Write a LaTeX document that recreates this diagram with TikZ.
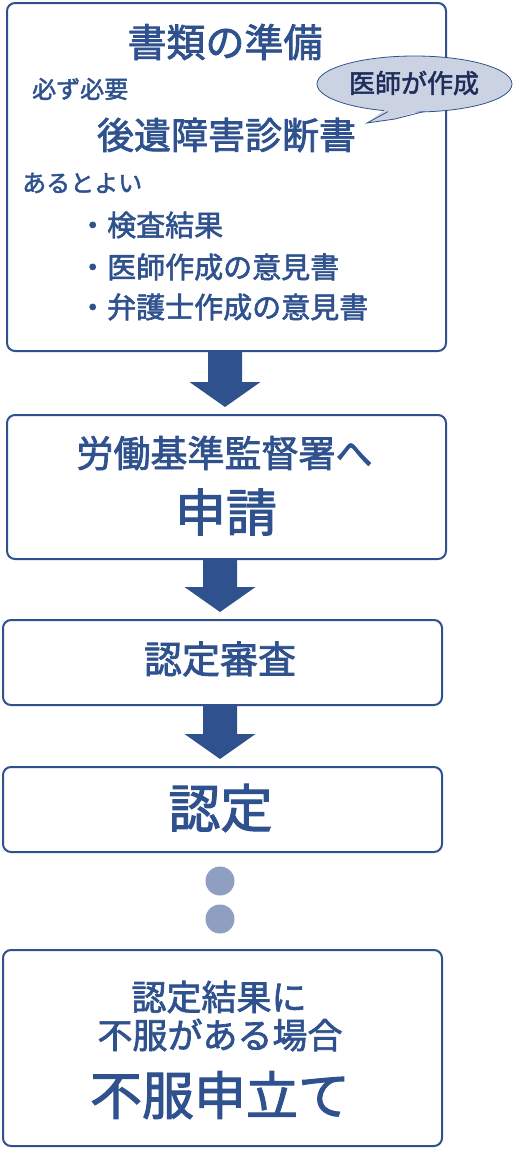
\documentclass[tikz,border=0pt]{standalone}
\usepackage{fontspec}
\setmainfont{Noto Sans CJK JP}
\newfontfamily\jpm[FakeBold=2]{Noto Sans CJK JP}
\usetikzlibrary{calc}
\definecolor{navy}{RGB}{47,82,143}
\definecolor{bubtext}{RGB}{30,45,90}
\definecolor{bubfill}{RGB}{203,211,227}
\definecolor{dotc}{RGB}{142,159,194}
\tikzset{
  box/.style={draw=navy, line width=2pt, rounded corners=8pt, fill=white, inner sep=0pt},
  txt/.style={text=navy, inner sep=0pt},
  arrowfill/.style={fill=navy},
  dotnode/.style={circle, fill=dotc, minimum size=29pt, inner sep=0pt},
}
\newcommand\fs[1]{\jpm\fontsize{#1}{#1}\selectfont}
\newcommand\flowarrow[3]{%
  \fill[arrowfill] let \p1=(#1.south), \p2=(#2.north) in
   (\x1+#3-17pt,\y1) -- (\x1+#3+17pt,\y1) -- (\x1+#3+17pt,\y2+32pt)
   -- (\x1+#3+35.5pt,\y2+32pt) -- (\x1+#3,\y2+7pt) -- (\x1+#3-35.5pt,\y2+32pt)
   -- (\x1+#3-17pt,\y2+32pt) -- cycle;}
\begin{document}
\begin{tikzpicture}[x=1pt,y=-1pt]
\useasboundingbox (0,0) rectangle (513,1149);
% boxes
\node[box, minimum width=439pt, minimum height=348pt] (b1) at (226.5,177) {};
\node[box, minimum width=439pt, minimum height=144pt] (b2) at (226.5,487) {};
\node[box, minimum width=439pt, minimum height=85pt] (b3) at (222.5,662.5) {};
\node[box, minimum width=439pt, minimum height=85pt] (b4) at (222.5,809.5) {};
\node[box, minimum width=439pt, minimum height=196pt] (b5) at (222.5,1048) {};
% arrows
\flowarrow{b1}{b2}{-1.5pt}
\flowarrow{b2}{b3}{-6.5pt}
\flowarrow{b3}{b4}{-2.5pt}
% dots
\node[dotnode] (d1) at (220,881) {};
\node[dotnode] (d2) at (220,919) {};
% box 1 texts
\node[txt, font=\fs{39}] (t1) at (225,42) {書類の準備};
\node[txt, font=\fs{24}, anchor=west] (t2) at (32,89) {必ず必要};
\node[txt, font=\fs{37}] (t3) at (226.5,135) {後遺障害診断書};
\node[txt, font=\fs{24}, anchor=west] (t4) at (22,183) {あるとよい};
\node[txt, font=\fs{29}, anchor=west] (t5) at (78,225) {・検査結果};
\node[txt, font=\fs{29}, anchor=west] (t6) at (78,267) {・医師作成の意見書};
\node[txt, font=\fs{29}, anchor=west] (t7) at (78,307) {・弁護士作成の意見書};
% bubble
\fill[bubfill] (414.5,84) ellipse [x radius=97.5, y radius=28];
\draw[navy, line width=0.8pt] (414.5,84) ellipse [x radius=97.5, y radius=28];
\fill[bubfill] (386,109) -- (367,123) -- (395,119) -- (425,109) -- cycle;
\draw[navy, line width=0.8pt] (388,111.6) -- (367,123) -- (395,119) -- (423,111.8);
\node[txt, text=bubtext, font=\fs{26}] (bt) at (414,83) {医師が作成};
% box 2
\node[txt, font=\fs{37}] (t8) at (224.5,453) {労働基準監督署へ};
\node[txt, font=\fs{51}] (t9) at (226,512) {申請};
% box 3
\node[txt, font=\fs{38}] (t10) at (220,659) {認定審査};
% box 4
\node[txt, font=\fs{52}] (t11) at (220.5,808) {認定};
% box 5
\node[txt, font=\fs{35}] (t12) at (219,997) {認定結果に};
\node[txt, font=\fs{35}] (t13) at (220,1035) {不服がある場合};
\node[txt, font=\fs{52}] (t14) at (220,1095) {不服申立て};
\end{tikzpicture}
\end{document}
